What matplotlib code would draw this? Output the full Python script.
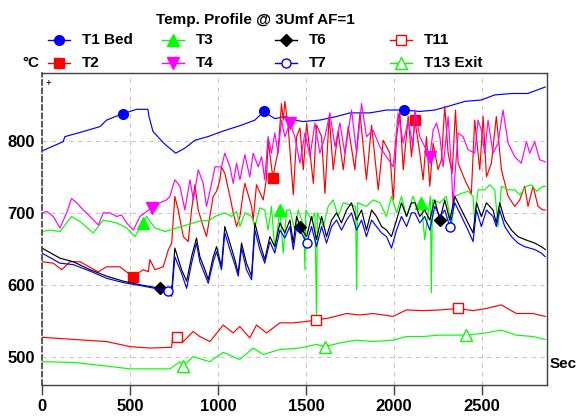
import numpy as np
import matplotlib.pyplot as plt
from matplotlib.lines import Line2D

plt.rcParams['font.family'] = ['Liberation Sans', 'DejaVu Sans']

# time (sec) / temperature (degC), one pair of lists per channel
t1_time = [0, 120, 130, 233, 330, 367, 460, 538, 602, 608,
           631, 700, 760, 812, 869, 943, 1020, 1134, 1210, 1260,
           1323, 1380, 1437, 1483, 1579, 1674, 1750, 1863, 1958, 2060,
           2147, 2232, 2306, 2403, 2497, 2573, 2668, 2760, 2860]
t1_temp = [786, 799, 806, 813, 820, 829, 838, 844, 844, 834,
           813, 795, 783, 790, 801, 806, 813, 822, 829, 841,
           831, 834, 829, 827, 829, 834, 839, 839, 843, 843,
           841, 843, 848, 855, 857, 864, 866, 866, 875]

t2_time = [0, 64, 112, 159, 216, 320, 367, 443, 517, 575,
           604, 613, 642, 689, 717, 737, 755, 774, 803, 831,
           850, 869, 888, 916, 935, 973, 992, 1011, 1020, 1039,
           1068, 1087, 1106, 1125, 1143, 1153, 1191, 1200, 1219, 1257,
           1276, 1285, 1312, 1342, 1361, 1371, 1380, 1399, 1428, 1447,
           1466, 1485, 1504, 1523, 1542, 1560, 1589, 1608, 1632, 1655,
           1683, 1712, 1740, 1778, 1807, 1844, 1873, 1911, 1939, 1977,
           1996, 2015, 2034, 2053, 2081, 2100, 2119, 2147, 2166, 2185,
           2204, 2223, 2251, 2270, 2289, 2308, 2331, 2350, 2365, 2403,
           2440, 2459, 2488, 2507, 2526, 2554, 2582, 2611, 2649, 2687,
           2715, 2743, 2762, 2791, 2819, 2847, 2860]
t2_temp = [632, 630, 621, 632, 632, 618, 625, 625, 611, 621,
           618, 635, 621, 625, 648, 658, 723, 704, 667, 660,
           704, 739, 704, 681, 667, 723, 730, 746, 764, 755,
           723, 700, 681, 695, 727, 741, 709, 690, 739, 718,
           748, 801, 749, 787, 852, 829, 855, 820, 725, 806,
           818, 760, 825, 783, 741, 822, 806, 727, 834, 760,
           813, 760, 820, 760, 839, 746, 822, 732, 801, 783,
           718, 806, 839, 760, 834, 778, 829, 783, 746, 806,
           737, 797, 760, 774, 848, 783, 755, 843, 769, 746,
           727, 829, 760, 834, 750, 769, 834, 760, 723, 709,
           718, 737, 709, 737, 709, 704, 704]

t3_time = [0, 45, 102, 168, 216, 291, 348, 424, 481, 528,
           575, 594, 642, 699, 793, 888, 954, 983, 1039, 1077,
           1106, 1125, 1153, 1191, 1210, 1238, 1266, 1285, 1304, 1323,
           1352, 1371, 1390, 1409, 1437, 1456, 1489, 1494, 1499, 1532,
           1551, 1560, 1565, 1598, 1627, 1655, 1683, 1712, 1782, 1788,
           1794, 1844, 1882, 1920, 1958, 1986, 2015, 2043, 2072, 2109,
           2138, 2156, 2175, 2207, 2213, 2219, 2261, 2298, 2327, 2346,
           2384, 2421, 2450, 2459, 2478, 2516, 2545, 2573, 2592, 2611,
           2649, 2687, 2715, 2753, 2781, 2810, 2847, 2860]
t3_temp = [674, 676, 674, 695, 688, 672, 690, 686, 679, 667,
           686, 695, 679, 674, 681, 688, 690, 695, 700, 695,
           702, 681, 700, 695, 681, 707, 704, 676, 709, 649,
           704, 644, 704, 704, 676, 704, 681, 621, 704, 690,
           700, 556, 700, 681, 709, 718, 695, 714, 709, 593,
           714, 709, 718, 714, 695, 723, 700, 723, 695, 723,
           704, 714, 663, 723, 589, 718, 714, 723, 681, 723,
           727, 730, 723, 686, 732, 732, 739, 732, 681, 737,
           732, 732, 725, 737, 739, 730, 737, 737]

t4_time = [0, 26, 64, 102, 140, 168, 197, 235, 273, 320,
           348, 386, 424, 452, 481, 519, 557, 623, 642, 670,
           708, 727, 755, 784, 812, 841, 860, 888, 916, 935,
           964, 983, 1020, 1039, 1068, 1087, 1106, 1125, 1153, 1181,
           1200, 1229, 1248, 1266, 1285, 1304, 1323, 1342, 1361, 1380,
           1409, 1437, 1466, 1494, 1523, 1551, 1579, 1608, 1636, 1665,
           1693, 1721, 1759, 1788, 1816, 1844, 1882, 1920, 1958, 1996,
           2024, 2053, 2081, 2109, 2119, 2147, 2175, 2204, 2223, 2242,
           2261, 2280, 2308, 2327, 2336, 2346, 2365, 2393, 2421, 2459,
           2478, 2497, 2516, 2535, 2563, 2592, 2620, 2649, 2687, 2724,
           2753, 2772, 2800, 2828, 2860]
t4_temp = [700, 702, 695, 679, 700, 720, 714, 704, 695, 683,
           700, 700, 695, 697, 686, 676, 695, 707, 704, 714,
           718, 723, 746, 737, 704, 746, 718, 760, 741, 709,
           741, 764, 764, 783, 764, 741, 769, 746, 781, 750,
           783, 764, 778, 746, 806, 783, 811, 783, 829, 806,
           825, 806, 769, 811, 778, 825, 783, 806, 839, 792,
           825, 783, 843, 783, 852, 806, 815, 792, 778, 764,
           839, 797, 829, 792, 843, 806, 792, 778, 815, 825,
           806, 764, 834, 760, 709, 750, 811, 806, 788, 783,
           829, 815, 783, 829, 783, 797, 843, 797, 778, 769,
           799, 783, 799, 774, 771]

t6_time = [0, 102, 178, 273, 367, 462, 557, 670, 727, 740,
           755, 793, 822, 850, 878, 897, 926, 945, 973, 992,
           1020, 1039, 1068, 1096, 1115, 1134, 1162, 1191, 1210, 1238,
           1266, 1295, 1323, 1352, 1380, 1409, 1428, 1447, 1466, 1504,
           1532, 1560, 1589, 1617, 1646, 1674, 1702, 1731, 1759, 1788,
           1816, 1844, 1873, 1901, 1930, 1958, 1986, 2015, 2043, 2072,
           2100, 2119, 2147, 2175, 2204, 2232, 2261, 2289, 2317, 2346,
           2384, 2421, 2450, 2469, 2497, 2526, 2563, 2582, 2601, 2630,
           2668, 2705, 2743, 2800, 2838, 2860]
t6_temp = [651, 637, 632, 621, 612, 605, 600, 595, 591, 600,
           651, 621, 605, 639, 665, 639, 621, 607, 639, 653,
           625, 681, 658, 635, 616, 658, 630, 612, 686, 658,
           635, 667, 653, 686, 672, 690, 658, 695, 681, 667,
           695, 663, 695, 667, 690, 700, 686, 704, 714, 690,
           704, 676, 704, 695, 681, 676, 667, 690, 714, 695,
           714, 714, 695, 704, 690, 718, 690, 718, 690, 723,
           704, 686, 672, 714, 695, 714, 704, 686, 714, 690,
           676, 667, 663, 658, 653, 649]

t7_time = [0, 102, 178, 273, 367, 462, 557, 642, 716, 737,
           755, 793, 822, 850, 878, 897, 926, 945, 973, 992,
           1020, 1039, 1068, 1096, 1115, 1134, 1162, 1191, 1210, 1238,
           1266, 1295, 1323, 1352, 1380, 1409, 1428, 1447, 1475, 1504,
           1532, 1560, 1589, 1617, 1646, 1674, 1702, 1731, 1759, 1788,
           1816, 1844, 1873, 1901, 1930, 1958, 1986, 2015, 2043, 2072,
           2100, 2119, 2147, 2175, 2204, 2232, 2261, 2289, 2317, 2346,
           2384, 2421, 2450, 2469, 2497, 2526, 2563, 2582, 2601, 2630,
           2668, 2705, 2743, 2800, 2838, 2860]
t7_temp = [644, 630, 628, 619, 609, 603, 599, 595, 591, 584,
           639, 616, 595, 630, 658, 632, 614, 602, 632, 646,
           621, 672, 649, 628, 612, 651, 621, 607, 676, 649,
           630, 660, 644, 676, 665, 681, 649, 681, 672, 658,
           681, 653, 681, 658, 681, 690, 676, 690, 700, 676,
           690, 667, 690, 681, 672, 667, 651, 676, 695, 681,
           700, 700, 686, 695, 676, 709, 695, 704, 681, 714,
           695, 676, 660, 704, 681, 704, 695, 681, 704, 681,
           667, 658, 653, 649, 644, 639]

t11_time = [0, 178, 367, 500, 613, 736, 746, 765, 803, 859,
            897, 954, 1030, 1086, 1124, 1181, 1219, 1276, 1352, 1427,
            1503, 1560, 1635, 1730, 1806, 1882, 1995, 2071, 2166, 2260,
            2364, 2450, 2525, 2610, 2696, 2790, 2860]
t11_temp = [527, 524, 521, 514, 512, 513, 533, 528, 521, 535,
            528, 521, 544, 533, 542, 526, 544, 533, 547, 547,
            549, 551, 554, 560, 558, 560, 556, 565, 564, 565,
            567, 564, 567, 572, 560, 560, 556]

t13_time = [0, 178, 367, 500, 613, 727, 784, 801, 859, 954,
            1030, 1124, 1200, 1257, 1352, 1465, 1560, 1607, 1692, 1787,
            1882, 1995, 2071, 2166, 2260, 2412, 2525, 2610, 2696, 2790,
            2860]
t13_temp = [493, 492, 487, 483, 483, 483, 493, 487, 500, 493,
            506, 496, 512, 503, 510, 512, 517, 514, 519, 523,
            521, 523, 528, 528, 530, 530, 533, 537, 530, 528,
            524]

# times at which the symbols sit on each trace
t1_marks = [460, 1260, 2060]
t2_marks = [517, 1312, 2119]
t3_marks = [575, 1352, 2156]
t4_marks = [623, 1409, 2204]
t6_marks = [670, 1466, 2261]
t7_marks = [716, 1504, 2317]
t11_marks = [765, 1560, 2364]
t13_marks = [801, 1607, 2412]

x_ticks = [0, 500, 1000, 1500, 2000, 2500]
y_ticks = [500, 600, 700, 800]

# name, time, temp, marks, colour, marker, face, size
series = [
    ('T1 Bed', t1_time, t1_temp, t1_marks, '#0000ff', 'o', '#0000ff', 7),
    ('T2', t2_time, t2_temp, t2_marks, '#ff0000', 's', '#ff0000', 7.5),
    ('T3', t3_time, t3_temp, t3_marks, '#00ff00', '^', '#00ff00', 8.5),
    ('T4', t4_time, t4_temp, t4_marks, '#ff00ff', 'v', '#ff00ff', 8.5),
    ('T6', t6_time, t6_temp, t6_marks, '#000000', 'D', '#000000', 6),
    ('T7', t7_time, t7_temp, t7_marks, '#0000ff', 'o', 'white', 6.5),
    ('T11', t11_time, t11_temp, t11_marks, '#ff0000', 's', 'white', 7.5),
    ('T13 Exit', t13_time, t13_temp, t13_marks, '#00ff00', '^', 'white', 8.5),
]

W, H = 582, 417
fig = plt.figure(figsize=(W / 100, H / 100), dpi=100)
ax = fig.add_axes([42 / W, 1 - 385 / H, (547 - 42) / W, (385 - 73) / H])

for name, t, v, marks, color, marker, face, size in series:
    t = np.array(t)
    idx = [int(np.argmin(np.abs(t - m))) for m in marks]
    ax.plot(t, v, color=color, lw=0.85, marker=marker, markevery=idx,
            ms=size, mfc=face, mec=color, mew=1.0)

ax.set_xlim(0, 2870)
ax.set_ylim(460.6, 894.5)
ax.set_xticks(x_ticks)
ax.set_yticks(y_ticks)
ax.grid(True, color='#c8c8c8', ls=(0, (4, 4)), lw=0.8)
ax.set_axisbelow(True)

for s in ['top', 'right', 'bottom']:
    ax.spines[s].set_color('#404040')
    ax.spines[s].set_linewidth(1.0)
ax.spines['left'].set_color('#404040')
ax.spines['left'].set_linestyle((0, (3, 2)))
ax.spines['left'].set_linewidth(1.2)

ax.tick_params(axis='x', direction='out', length=7, width=1, color='#404040', pad=3,
               labelsize=12)
ax.tick_params(axis='y', length=0, pad=5, labelsize=12)
for lab in ax.get_xticklabels() + ax.get_yticklabels():
    lab.set_fontweight('bold')

ax.text(0.006, 0.985, '+', transform=ax.transAxes, fontsize=7, ha='left', va='top')

def fx(px):
    return px / W

def fy(py):
    return 1 - py / H

fig.text(fx(255), fy(20), 'Temp. Profile @ 3Umf AF=1', ha='center', va='center',
         fontsize=11, fontweight='bold')
fig.text(fx(31), fy(63), '°C', ha='center', va='center', fontsize=11, fontweight='bold')
fig.text(fx(563), fy(364), 'Sec', ha='center', va='center', fontsize=11, fontweight='bold')

# legend, four columns of two entries
col_x = [48, 162, 275, 390]
row_y = [40, 63]
for i, (name, t, v, marks, color, marker, face, size) in enumerate(series):
    x0 = col_x[i // 2]
    y = fy(row_y[i % 2])
    fig.add_artist(Line2D([fx(x0), fx(x0 + 22)], [y, y], color=color, lw=1.0,
                          transform=fig.transFigure))
    fig.add_artist(Line2D([fx(x0 + 11)], [y], color=color, marker=marker, ms=size,
                          mfc=face, mec=color, mew=1.0, transform=fig.transFigure))
    fig.text(fx(x0 + 34), y, name, ha='left', va='center', fontsize=11, fontweight='bold')

fig.savefig('out.png', dpi=100)
